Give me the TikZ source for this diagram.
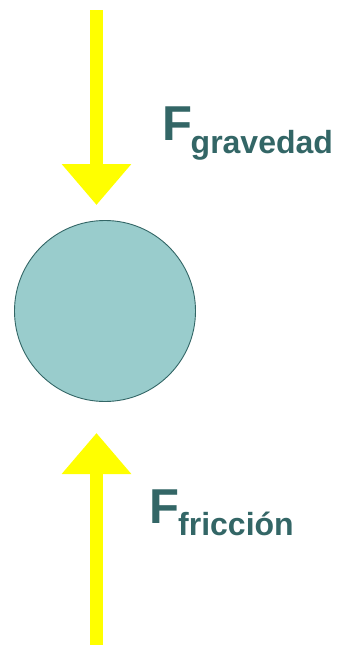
\documentclass[tikz,border=0pt]{standalone}
\usepackage{fontspec}
\setmainfont{Liberation Sans}
\usetikzlibrary{arrows.meta,positioning}
\definecolor{fyellow}{HTML}{FFFF00}
\definecolor{bteal}{HTML}{99CCCC}
\definecolor{dteal}{HTML}{336666}

\begin{document}
\begin{tikzpicture}[x=1pt, y=-1pt,
  force/.style={line width=13pt, draw=fyellow, -{Triangle[width=67pt, length=41pt]}},
  body/.style={circle, draw=dteal, line width=0.9pt, fill=bteal, minimum size=181pt, inner sep=0pt},
  bigf/.style={inner sep=0pt, anchor=base west, text=dteal, font=\bfseries\fontsize{49}{49}\selectfont},
  subf/.style={inner sep=0pt, anchor=base west, text=dteal, font=\bfseries\fontsize{32}{32}\selectfont}]
  \useasboundingbox (0,0) rectangle (343,645);
  \node[body] (ball) at (105,311) {};
  % gravity from above, friction from below
  \coordinate (gtail) at (96.5,10);
  \coordinate (gtip)  at (96.5,205);
  \coordinate (ftail) at (96.5,645);
  \coordinate (ftip)  at (96.5,433);
  \draw[force] (gtail) -- (gtip);
  \draw[force] (ftail) -- (ftip);
  \node[bigf] (fg)   at (162,140) {F};
  \node[subf] (fgsub) at (190.5,153) {gravedad};
  \node[bigf] (ff)   at (149,523) {F};
  \node[subf] (ffsub) at (178,535) {fricción};
\end{tikzpicture}
\end{document}
